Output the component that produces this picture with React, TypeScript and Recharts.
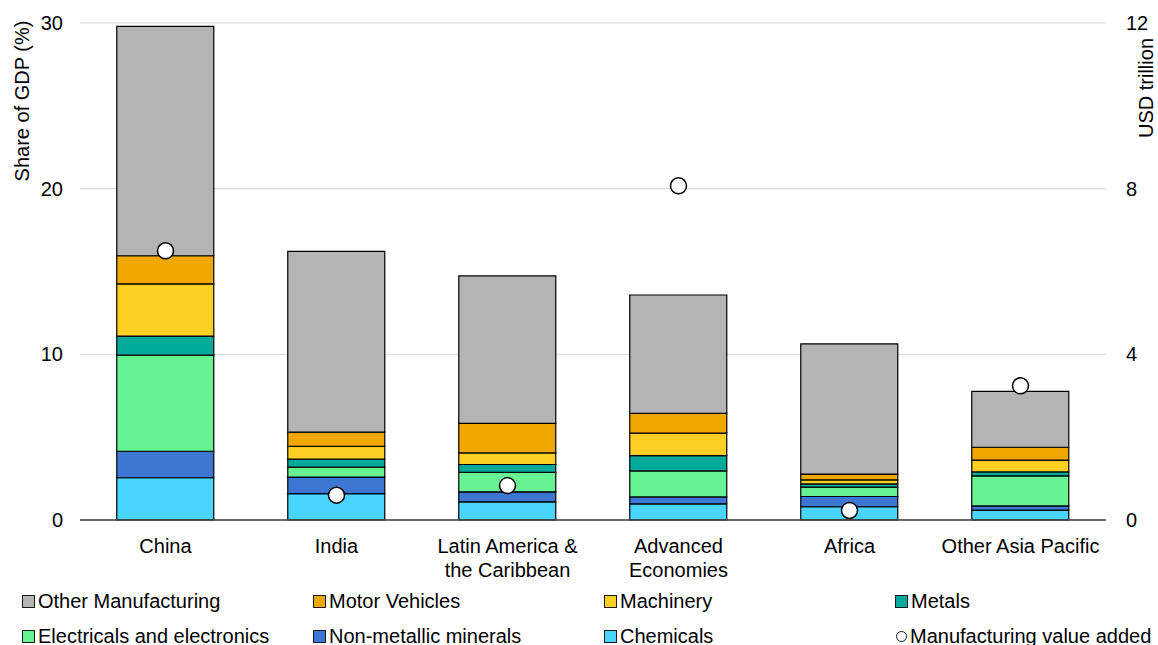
import React from 'react';
import {
  ComposedChart,
  Bar,
  Scatter,
  XAxis,
  YAxis,
  CartesianGrid,
} from 'recharts';

// Regions on the category axis ("\n" splits a label over two lines)
const regions = [
  'China',
  'India',
  'Latin America &\nthe Caribbean',
  'Advanced\nEconomies',
  'Africa',
  'Other Asia Pacific',
];

// Sector shares of GDP (%), stacked bottom to top
const chemicals = [2.55, 1.59, 1.1, 0.97, 0.8, 0.6];
const nonMetallicMinerals = [1.6, 1.0, 0.6, 0.42, 0.62, 0.25];
const electricals = [5.8, 0.6, 1.17, 1.57, 0.56, 1.81];
const metals = [1.15, 0.48, 0.48, 0.92, 0.2, 0.24];
const machinery = [3.15, 0.77, 0.7, 1.37, 0.24, 0.72];
const motorVehicles = [1.7, 0.86, 1.78, 1.19, 0.35, 0.77];
const otherManufacturing = [13.85, 10.92, 8.9, 7.14, 7.86, 3.38];

// Manufacturing value added (USD trillion, right axis)
const valueAdded = [6.5, 0.6, 0.83, 8.07, 0.23, 3.24];

const leftTicks = [0, 10, 20, 30];
const rightTicks = [0, 4, 8, 12];

type SeriesDef = { key: string; name: string; color: string; values: number[] };

const stackSeries: SeriesDef[] = [
  { key: 'chemicals', name: 'Chemicals', color: '#4ad5ff', values: chemicals },
  { key: 'nonMetallic', name: 'Non-metallic minerals', color: '#3e77d3', values: nonMetallicMinerals },
  { key: 'electricals', name: 'Electricals and electronics', color: '#67f294', values: electricals },
  { key: 'metals', name: 'Metals', color: '#00ab9b', values: metals },
  { key: 'machinery', name: 'Machinery', color: '#ffd023', values: machinery },
  { key: 'motor', name: 'Motor Vehicles', color: '#f0a800', values: motorVehicles },
  { key: 'other', name: 'Other Manufacturing', color: '#b4b4b4', values: otherManufacturing },
];

const data = regions.map((region, i) => {
  const row: Record<string, string | number> = { region, mva: valueAdded[i] };
  stackSeries.forEach((s) => {
    row[s.key] = s.values[i];
  });
  return row;
});

// Legend order: two rows of four
const legendOrder = [
  'other', 'motor', 'machinery', 'metals',
  'electricals', 'nonMetallic', 'chemicals', 'mva',
];

const FONT = '"Liberation Sans", Arial, sans-serif';
const TEXT = '#000000';

const CategoryTick = (props: any) => {
  const { x, y, payload } = props;
  const lines = String(payload.value).split('\n');
  return (
    <text x={x} y={y + 33} textAnchor="middle" fill={TEXT} fontSize={20} fontFamily={FONT}>
      {lines.map((line, i) => (
        <tspan key={i} x={x} dy={i === 0 ? 0 : 24}>
          {line}
        </tspan>
      ))}
    </text>
  );
};

const LeftTitle = (props: any) => {
  const { viewBox } = props;
  const cx = viewBox.x + 22;
  const cy = viewBox.y + 78;
  return (
    <text
      x={cx}
      y={cy}
      transform={`rotate(-90, ${cx}, ${cy})`}
      textAnchor="middle"
      dominantBaseline="central"
      fill={TEXT}
      fontSize={20}
      fontFamily={FONT}
    >
      Share of GDP (%)
    </text>
  );
};

const RightTitle = (props: any) => {
  const { viewBox } = props;
  const cx = viewBox.x + 40;
  const cy = viewBox.y + 65;
  return (
    <text
      x={cx}
      y={cy}
      transform={`rotate(-90, ${cx}, ${cy})`}
      textAnchor="middle"
      dominantBaseline="central"
      fill={TEXT}
      fontSize={20}
      fontFamily={FONT}
    >
      USD trillion
    </text>
  );
};

const ValueDot = (props: any) => {
  const { cx, cy } = props;
  return <circle cx={cx} cy={cy} r={8} fill="#ffffff" stroke="#000000" strokeWidth={1.5} />;
};

const LegendRow = () => {
  const lookup: Record<string, { name: string; color: string; circle?: boolean }> = {};
  stackSeries.forEach((s) => {
    lookup[s.key] = { name: s.name, color: s.color };
  });
  lookup.mva = { name: 'Manufacturing value added', color: '#ffffff', circle: true };
  const colLeft = [22, 313, 604, 895];
  const rowCenter = [601, 636];
  return (
    <>
      {legendOrder.map((key, i) => {
        const item = lookup[key];
        const col = i % 4;
        const row = Math.floor(i / 4);
        return (
          <div
            key={key}
            style={{
              position: 'absolute',
              left: colLeft[col],
              top: rowCenter[row] - 12,
              height: 24,
              display: 'flex',
              alignItems: 'center',
              fontFamily: FONT,
              fontSize: 20,
              color: TEXT,
              whiteSpace: 'nowrap',
            }}
          >
            <span
              style={{
                display: 'inline-block',
                width: item.circle ? 9 : 11,
                height: item.circle ? 9 : 11,
                borderRadius: item.circle ? '50%' : 0,
                background: item.color,
                border: '1.2px solid #1a1a1a',
                marginRight: 3,
                marginLeft: item.circle ? 1 : 0,
              }}
            />
            {item.name}
          </div>
        );
      })}
    </>
  );
};

export default function App() {
  return (
    <div
      style={{
        position: 'absolute',
        left: 0,
        top: 0,
        width: 1158,
        height: 645,
        background: '#ffffff',
        fontFamily: FONT,
        overflow: 'hidden',
      }}
    >
      <ComposedChart
        width={1158}
        height={645}
        data={data}
        margin={{ top: 23, right: 0, bottom: 65, left: 0 }}
        barCategoryGap="21.5%"
      >
        <CartesianGrid yAxisId="left" vertical={false} stroke="#d9d9d9" strokeWidth={1} />
        <XAxis
          dataKey="region"
          height={60}
          tick={<CategoryTick />}
          tickLine={false}
          tickSize={0}
          tickMargin={0}
          axisLine={{ stroke: '#404040', strokeWidth: 1.3 }}
          interval={0}
        />
        <YAxis
          yAxisId="left"
          width={80}
          domain={[0, 30]}
          ticks={leftTicks}
          axisLine={false}
          tickLine={false}
          tickSize={0}
          tickMargin={17}
          tick={{ fill: TEXT, fontSize: 20, fontFamily: FONT }}
          label={<LeftTitle />}
        />
        <YAxis
          yAxisId="right"
          orientation="right"
          width={52}
          domain={[0, 12]}
          ticks={rightTicks}
          axisLine={false}
          tickLine={false}
          tickSize={0}
          tickMargin={20}
          tick={{ fill: TEXT, fontSize: 20, fontFamily: FONT }}
          label={<RightTitle />}
        />
        {stackSeries.map((s) => (
          <Bar
            key={s.key}
            yAxisId="left"
            dataKey={s.key}
            name={s.name}
            stackId="sectors"
            fill={s.color}
            stroke="#000000"
            strokeWidth={1.2}
            isAnimationActive={false}
          />
        ))}
        <Scatter
          yAxisId="right"
          dataKey="mva"
          name="Manufacturing value added"
          shape={<ValueDot />}
          isAnimationActive={false}
        />
      </ComposedChart>
      <LegendRow />
    </div>
  );
}
